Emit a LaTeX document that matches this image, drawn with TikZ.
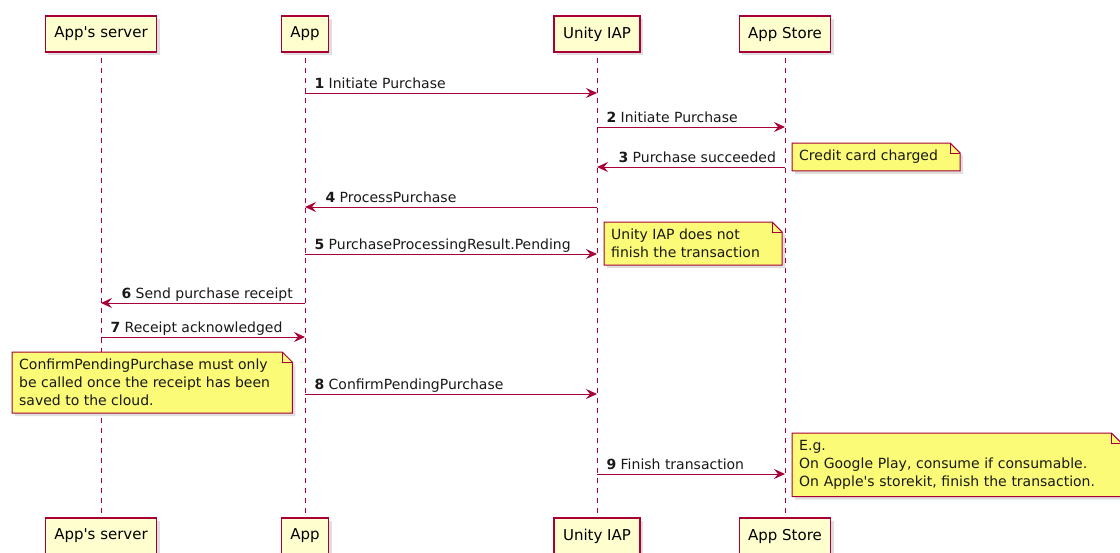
\documentclass[tikz,border=0pt]{standalone}
\usepackage{fontspec}
\setmainfont{DejaVu Sans}
\usetikzlibrary{arrows.meta,shadows,backgrounds,positioning}
\usepackage{xcolor}

\definecolor{umlred}{HTML}{A80036}
\definecolor{partfill}{HTML}{FEFECE}
\definecolor{notefill}{HTML}{FBFB77}

\tikzset{
  participant/.style={draw=umlred, fill=partfill, line width=1.1pt,
    minimum height=36pt, inner xsep=9pt, font=\fontsize{15}{17}\selectfont,
    drop shadow={shadow xshift=3pt, shadow yshift=-3pt, opacity=.25}},
  lifeline/.style={umlred, dash pattern=on 5pt off 5pt, line width=0.8pt},
  msg/.style={umlred, line width=1pt,
    -{Stealth[length=11pt, width=10pt, inset=4pt]}},
  lbl/.style={font=\fontsize{14}{16}\selectfont, text=black!90,
    inner sep=0pt, yshift=5pt},
  notetext/.style={font=\fontsize{14}{18}\selectfont, text=black!90,
    align=left, inner xsep=7pt, inner ysep=7pt},
  notebox/.style={draw=umlred, fill=notefill, line width=1pt,
    drop shadow={shadow xshift=3pt, shadow yshift=-3pt, opacity=.25}},
}

% note with folded corner, drawn round a named text node
\newcommand\foldnote[2][10pt]{%
  \begin{scope}[on background layer]
    \draw[notebox] (#2.north west) -- ([xshift=15pt-#1]#2.north east)
      -- ([xshift=15pt, yshift=-#1]#2.north east) -- ([xshift=15pt]#2.south east)
      -- (#2.south west) -- cycle;
    \draw[umlred, line width=1pt] ([xshift=15pt-#1]#2.north east)
      |- ([xshift=15pt, yshift=-#1]#2.north east);
  \end{scope}}

\begin{document}
\begin{tikzpicture}[x=1pt, y=-1pt]
  \useasboundingbox (0,0) rectangle (1120,552);
  \begin{scope}[on background layer]
    \fill[white] (0,0) rectangle (1120,552);
  \end{scope}

  % participants
  \node[participant] (srvtop) at (101,34) {App\textquotesingle s server};
  \node[participant] (apptop) at (305,34) {App};
  \node[participant] (iaptop) at (597,34) {Unity IAP};
  \node[participant] (storetop) at (785,34) {App Store};
  \node[participant] (srvbot) at (101,536) {App\textquotesingle s server};
  \node[participant] (appbot) at (305,536) {App};
  \node[participant] (iapbot) at (597,536) {Unity IAP};
  \node[participant] (storebot) at (785,536) {App Store};

  % lifelines
  \begin{scope}[on background layer]
    \draw[lifeline] ([yshift=-5pt]srvtop.south) -- (srvbot);
    \draw[lifeline] ([yshift=-5pt]apptop.south) -- (appbot);
    \draw[lifeline] ([yshift=-5pt]iaptop.south) -- (iapbot);
    \draw[lifeline] ([yshift=-5pt]storetop.south) -- (storebot);
  \end{scope}

  % messages
  \draw[msg] (apptop |- 0,93) -- (iaptop |- 0,93)
    node[lbl, pos=0, anchor=base west, xshift=9pt] {\textbf{1} Initiate Purchase};
  \draw[msg] (iaptop |- 0,127) -- (storetop |- 0,127)
    node[lbl, pos=0, anchor=base west, xshift=9pt] {\textbf{2} Initiate Purchase};
  \draw[msg] (storetop |- 0,167) -- (iaptop |- 0,167)
    node[lbl, pos=1, anchor=base west, xshift=21pt] {\textbf{3} Purchase succeeded};
  \draw[msg] (iaptop |- 0,207) -- (apptop |- 0,207)
    node[lbl, pos=1, anchor=base west, xshift=20pt] {\textbf{4} ProcessPurchase};
  \draw[msg] (apptop |- 0,254) -- (iaptop |- 0,254)
    node[lbl, pos=0, anchor=base west, xshift=9pt] {\textbf{5} PurchaseProcessingResult.Pending};
  \draw[msg] (apptop |- 0,303) -- (srvtop |- 0,303)
    node[lbl, pos=1, anchor=base west, xshift=20pt] {\textbf{6} Send purchase receipt};
  \draw[msg] (srvtop |- 0,337) -- (apptop |- 0,337)
    node[lbl, pos=0, anchor=base west, xshift=9pt] {\textbf{7} Receipt acknowledged};
  \draw[msg] (apptop |- 0,394) -- (iaptop |- 0,394)
    node[lbl, pos=0, anchor=base west, xshift=9pt] {\textbf{8} ConfirmPendingPurchase};
  \draw[msg] (iaptop |- 0,474) -- (storetop |- 0,474)
    node[lbl, pos=0, anchor=base west, xshift=9pt] {\textbf{9} Finish transaction};

  % notes
  \node[notetext, anchor=north west] (notecard) at (792,143) {Credit card charged};
  \foldnote{notecard}
  \node[notetext, anchor=north west] (noteiap) at (604,222)
    {Unity IAP does not\\finish the transaction};
  \foldnote{noteiap}
  \node[notetext, anchor=north west] (noteconfirm) at (12,352)
    {ConfirmPendingPurchase must only\\be called once the receipt has been\\saved to the cloud.};
  \foldnote{noteconfirm}
  \node[notetext, anchor=north west, text width=300pt] (notefinish) at (792,433)
    {E.g.\\On Google Play, consume if consumable.\\On Apple\textquotesingle s storekit, finish the transaction.};
  \foldnote{notefinish}
\end{tikzpicture}
\end{document}
